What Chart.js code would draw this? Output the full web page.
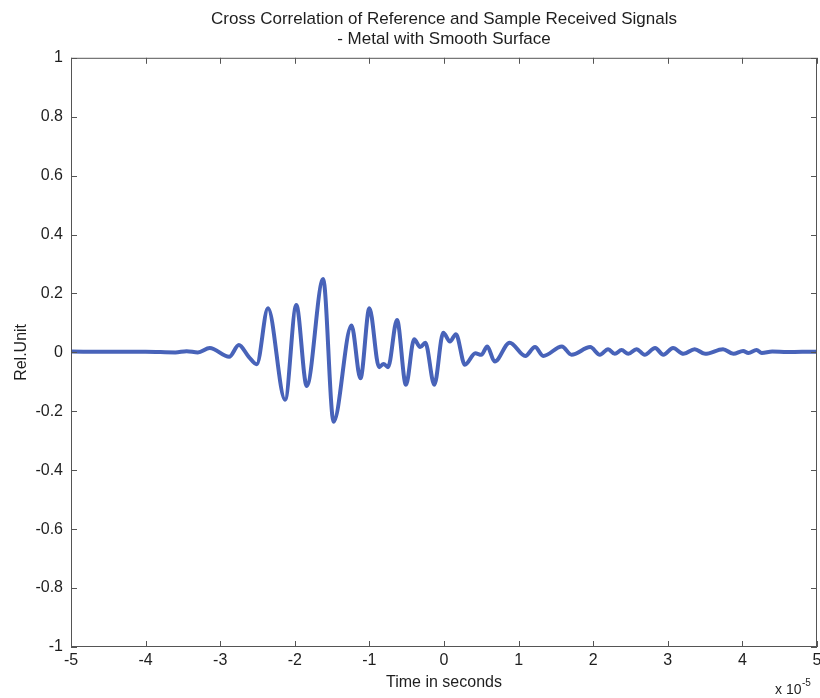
<!DOCTYPE html>
<html lang="en">
<head>
    <meta charset="UTF-8">
    <title>Cross Correlation - Metal with Smooth Surface</title>
    <script src="https://cdn.jsdelivr.net/npm/chart.js"></script>
    <style>
        html, body {
            margin: 0;
            padding: 0;
            background: #ffffff;
        }
        .chart-box {
            width: 820px;
            height: 698px;
        }
    </style>
</head>
<body>
    <div class="chart-box">
        <canvas id="xcorrChart"></canvas>
    </div>

    <script>
        // time axis in units of 1e-5 s (matches the "x 10^-5" multiplier)
        const timeValues = [
            -5, -4.5, -4, -3.6, -3.45, -3.3, -3.14, -2.88, -2.75, -2.62,
            -2.51, -2.36, -2.13, -1.98, -1.84, -1.62, -1.48, -1.24, -1.12, -1.00,
            -0.87, -0.81, -0.75, -0.63, -0.51, -0.40, -0.32, -0.25, -0.13, -0.01,
            0.08, 0.16, 0.28, 0.42, 0.50, 0.58, 0.68, 0.88, 1.09, 1.22,
            1.33, 1.58, 1.71, 1.96, 2.09, 2.20, 2.29, 2.38, 2.47, 2.58,
            2.69, 2.83, 2.94, 3.07, 3.21, 3.36, 3.50, 3.74, 3.88, 4.01,
            4.08, 4.19, 4.26, 4.4, 4.6, 4.8, 5
        ];
        const relUnit = [
            0.003, 0.002, 0.002, 0.0, 0.004, 0.0, 0.015, -0.015, 0.025, -0.014,
            -0.040, 0.150, -0.161, 0.161, -0.114, 0.249, -0.235, 0.091, -0.088, 0.150,
            -0.050, -0.039, -0.050, 0.110, -0.110, 0.045, 0.018, 0.033, -0.110, 0.067,
            0.037, 0.062, -0.042, -0.003, -0.008, 0.020, -0.031, 0.033, -0.012, 0.018,
            -0.012, 0.020, -0.008, 0.018, -0.008, 0.011, -0.005, 0.008, -0.005, 0.011,
            -0.008, 0.015, -0.008, 0.015, -0.005, 0.011, -0.005, 0.011, -0.005, 0.005,
            -0.002, 0.008, -0.002, 0.003, 0.001, 0.002, 0.002
        ];
        const xTicks = [-5, -4, -3, -2, -1, 0, 1, 2, 3, 4, 5];
        const yTicks = [-1, -0.8, -0.6, -0.4, -0.2, 0, 0.2, 0.4, 0.6, 0.8, 1];
        const titleLines = [
            'Cross Correlation of Reference and Sample Received Signals',
            '- Metal with Smooth Surface'
        ];

        const points = timeValues.map((t, i) => ({ x: t, y: relUnit[i] }));
        const textColor = '#1e1e1e';
        const fontFamily = '"Liberation Sans", Arial, sans-serif';

        // matlab style box with inward ticks and the x10^-5 multiplier
        const matlabBox = {
            id: 'matlabBox',
            afterDraw(chart) {
                const ctx = chart.ctx;
                const a = chart.chartArea;
                const xs = chart.scales.x;
                const ys = chart.scales.y;
                const len = 6;
                ctx.save();
                ctx.strokeStyle = '#555555';
                ctx.lineWidth = 1;
                ctx.strokeRect(a.left + 0.5, a.top + 0.5, a.right - a.left - 1, a.bottom - a.top - 1);
                ctx.beginPath();
                xTicks.forEach(v => {
                    const px = Math.round(xs.getPixelForValue(v)) + 0.5;
                    ctx.moveTo(px, a.bottom);
                    ctx.lineTo(px, a.bottom - len);
                    ctx.moveTo(px, a.top);
                    ctx.lineTo(px, a.top + len);
                });
                yTicks.forEach(v => {
                    const py = Math.round(ys.getPixelForValue(v)) + 0.5;
                    ctx.moveTo(a.left, py);
                    ctx.lineTo(a.left + len, py);
                    ctx.moveTo(a.right, py);
                    ctx.lineTo(a.right - len, py);
                });
                ctx.stroke();

                ctx.fillStyle = textColor;
                ctx.font = '14px ' + fontFamily;
                ctx.textBaseline = 'alphabetic';
                ctx.textAlign = 'left';
                ctx.fillText('x 10', 775, 694);
                ctx.font = '10px ' + fontFamily;
                ctx.fillText('-5', 802, 686);
                ctx.restore();
            }
        };

        new Chart(document.getElementById('xcorrChart'), {
            type: 'line',
            data: {
                datasets: [{
                    data: points,
                    borderColor: '#4863b9',
                    borderWidth: 4,
                    pointRadius: 0,
                    cubicInterpolationMode: 'monotone',
                    fill: false
                }]
            },
            options: {
                responsive: true,
                maintainAspectRatio: false,
                animation: false,
                layout: {
                    padding: { left: 0, right: 3, top: 0, bottom: 0 }
                },
                plugins: {
                    legend: { display: false },
                    tooltip: { enabled: false },
                    title: {
                        display: true,
                        text: titleLines,
                        fullSize: false,
                        color: textColor,
                        font: { family: fontFamily, size: 17, weight: 'normal', lineHeight: 1.2 },
                        padding: { top: 9, bottom: 8 }
                    }
                },
                scales: {
                    x: {
                        type: 'linear',
                        min: -5,
                        max: 5,
                        afterFit(scale) {
                            scale.height = 51;
                            scale.paddingLeft = 0;
                            scale.paddingRight = 0;
                        },
                        afterBuildTicks(scale) { scale.ticks = xTicks.map(v => ({ value: v })); },
                        grid: { display: false, drawTicks: false },
                        border: { display: false },
                        ticks: {
                            color: textColor,
                            padding: 4,
                            font: { family: fontFamily, size: 16 },
                            callback: v => String(v)
                        },
                        title: {
                            display: true,
                            text: 'Time in seconds',
                            color: textColor,
                            font: { family: fontFamily, size: 16, lineHeight: 1.2 },
                            padding: { top: 0, bottom: 6 }
                        }
                    },
                    y: {
                        min: -1,
                        max: 1,
                        afterFit(scale) { scale.width = 71; },
                        afterBuildTicks(scale) { scale.ticks = yTicks.map(v => ({ value: v })); },
                        grid: { display: false, drawTicks: false },
                        border: { display: false },
                        ticks: {
                            color: textColor,
                            padding: 8,
                            font: { family: fontFamily, size: 16 },
                            callback: v => String(Number(v.toFixed(1)))
                        },
                        title: {
                            display: true,
                            text: 'Rel.Unit',
                            color: textColor,
                            font: { family: fontFamily, size: 16, lineHeight: 1.2 },
                            padding: { top: 12, bottom: 0 }
                        }
                    }
                }
            },
            plugins: [matlabBox]
        });
    </script>
</body>
</html>
